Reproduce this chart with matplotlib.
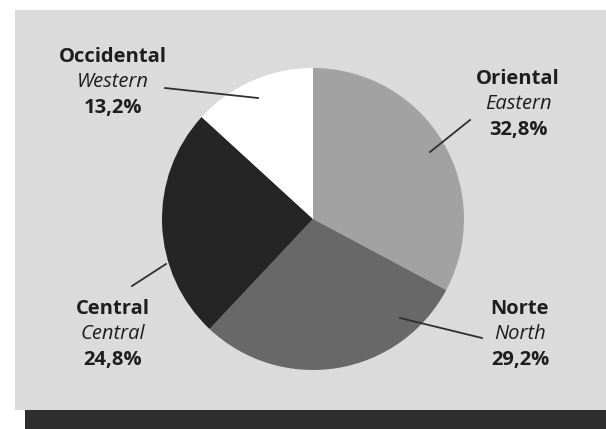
import matplotlib
matplotlib.use('Agg')
import matplotlib.pyplot as plt
from matplotlib.patches import Rectangle

# datos del grafico
regions = ['Oriental', 'Norte', 'Central', 'Occidental']
english = ['Eastern', 'North', 'Central', 'Western']
shares = [32.8, 29.2, 24.8, 13.2]
colors = ['#a2a2a2', '#686868', '#252525', '#ffffff']

plt.rcParams['font.family'] = ['Open Sans', 'DejaVu Sans']

fig = plt.figure(figsize=(6.06, 4.29), dpi=100)
fig.patch.set_facecolor('white')

# fondo gris y sombra de abajo
fig.patches.append(Rectangle((15 / 606, 19 / 429), 591 / 606, 400 / 429,
                             transform=fig.transFigure, facecolor='#dbdbdb',
                             edgecolor='none', zorder=-10))
fig.patches.append(Rectangle((25 / 606, 0), 581 / 606, 19 / 429,
                             transform=fig.transFigure, facecolor='#2e2e2e',
                             edgecolor='none', zorder=-10))

cx, cy, r = 313, 219, 151
ax = fig.add_axes([(cx - r) / 606, (429 - cy - r) / 429, 2 * r / 606, 2 * r / 429])
ax.set_facecolor('none')
ax.pie(shares, colors=colors, startangle=90, counterclock=False, radius=1,
       wedgeprops={'linewidth': 0})
ax.set_xlim(-1, 1)
ax.set_ylim(-1, 1)
ax.set_aspect('equal')
ax.axis('off')


def to_data(px, py):
    return (px - cx) / r, (cy - py) / r


# label positions (pixels) and leader lines
label_pos = {'Oriental': (518, 104), 'Norte': (520, 334),
             'Central': (113, 334), 'Occidental': (113, 82)}
line_ends = {'Oriental': ((470, 120), (430, 152)),
             'Norte': ((482, 338), (400, 318)),
             'Central': ((132, 286), (166, 264)),
             'Occidental': ((165, 88), (258, 98))}

for reg, eng, val in zip(regions, english, shares):
    px, py = label_pos[reg]
    x, y = to_data(px, py)
    dy = 25.5 / r
    ax.text(x, y + dy, reg, ha='center', va='center', fontsize=14.5,
            fontweight='bold', color='#1e1e1e', clip_on=False)
    ax.text(x, y, eng, ha='center', va='center', fontsize=14.5,
            style='italic', color='#1e1e1e', clip_on=False)
    ax.text(x, y - dy, '{}%'.format(str(val).replace('.', ',')), ha='center',
            va='center', fontsize=14.5, fontweight='bold', color='#1e1e1e',
            clip_on=False)
    (x0, y0), (x1, y1) = line_ends[reg]
    xs0, ys0 = to_data(x0, y0)
    xs1, ys1 = to_data(x1, y1)
    ax.plot([xs0, xs1], [ys0, ys1], color='#303030', linewidth=1.3,
            clip_on=False)

fig.savefig('out.png', dpi=100)
